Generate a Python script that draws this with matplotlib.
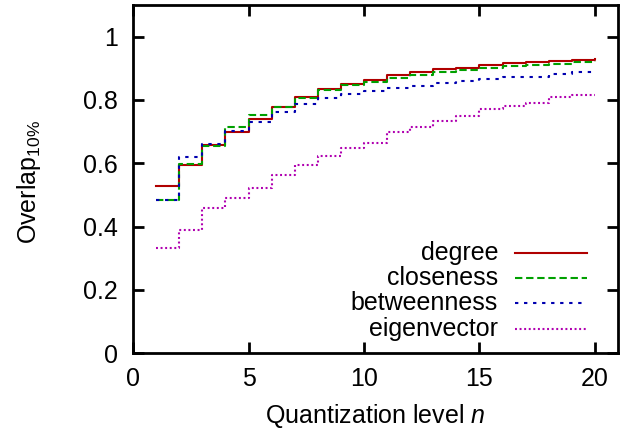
import matplotlib
matplotlib.use("Agg")
import matplotlib.pyplot as plt

# quantization levels and overlap values
levels = list(range(1, 21))
degree = [0.527, 0.594, 0.657, 0.699, 0.741, 0.779, 0.809, 0.834, 0.852, 0.863,
          0.878, 0.889, 0.897, 0.902, 0.909, 0.916, 0.920, 0.923, 0.926, 0.928]
closeness = [0.485, 0.599, 0.654, 0.714, 0.753, 0.779, 0.807, 0.830, 0.848, 0.856,
             0.871, 0.878, 0.888, 0.894, 0.902, 0.907, 0.909, 0.915, 0.920, 0.922]
betweenness = [0.485, 0.621, 0.660, 0.701, 0.732, 0.761, 0.786, 0.805, 0.818, 0.828,
               0.837, 0.845, 0.855, 0.861, 0.866, 0.874, 0.874, 0.881, 0.887, 0.888]
eigenvector = [0.334, 0.388, 0.458, 0.490, 0.521, 0.562, 0.594, 0.624, 0.648, 0.663,
               0.698, 0.715, 0.734, 0.750, 0.773, 0.780, 0.791, 0.808, 0.815, 0.816]

labels = ["degree", "closeness", "betweenness", "eigenvector"]
xticks = [0, 5, 10, 15, 20]
yticks = [0, 0.2, 0.4, 0.6, 0.8, 1]
ytick_labels = ["0", "0.2", "0.4", "0.6", "0.8", "1"]

plt.rcParams["font.family"] = ["Liberation Sans", "DejaVu Sans"]
plt.rcParams["mathtext.fontset"] = "custom"
plt.rcParams["mathtext.rm"] = "Liberation Sans"
plt.rcParams["mathtext.it"] = "Liberation Sans:italic"
plt.rcParams["lines.scale_dashes"] = False

colors = ["#b00000", "#00a000", "#0000b0", "#b000b0"]
dashes = [None, (5.3, 2.7), (2.4, 4.1), (1.4, 1.9)]
lw = 1.5


def main():
    fig = plt.figure(figsize=(6.38, 4.32), dpi=100)
    ax = fig.add_axes([0.2085, 0.1822, 0.7602, 0.8062])

    series = [degree, closeness, betweenness, eigenvector]
    for i, vals in enumerate(series):
        line, = ax.step(levels, vals, where="post", color=colors[i], lw=lw)
        if dashes[i] is not None:
            line.set_dashes(dashes[i])

    # gnuplot style key: text right aligned, sample on the right
    rows = [0.2888, 0.2171, 0.1453, 0.0706]
    for i in range(4):
        ax.text(0.7526, rows[i] - 0.020, labels[i], ha="right", va="baseline",
                fontsize=18, transform=ax.transAxes)
        line, = ax.plot([0.7876, 0.9361], [rows[i], rows[i]], color=colors[i],
                        lw=lw, transform=ax.transAxes)
        if dashes[i] is not None:
            line.set_dashes(dashes[i])

    ax.set_xlim(0, 21)
    ax.set_ylim(0, 1.1)
    ax.set_xticks(xticks)
    ax.set_yticks(yticks)
    ax.set_yticklabels(ytick_labels)
    ax.tick_params(direction="in", length=8, width=2, top=True, right=True,
                   labelsize=18)
    ax.tick_params(axis="y", pad=11)
    ax.tick_params(axis="x", pad=10)
    for s in ax.spines.values():
        s.set_linewidth(2)

    ax.set_xlabel(r"Quantization level $n$", fontsize=18, labelpad=8)
    fig.text(0.045, 1 - 182 / 432, r"Overlap$_{10\%}$", rotation=90,
             ha="center", va="center", fontsize=18)

    fig.savefig("out.png", dpi=100)


main()
